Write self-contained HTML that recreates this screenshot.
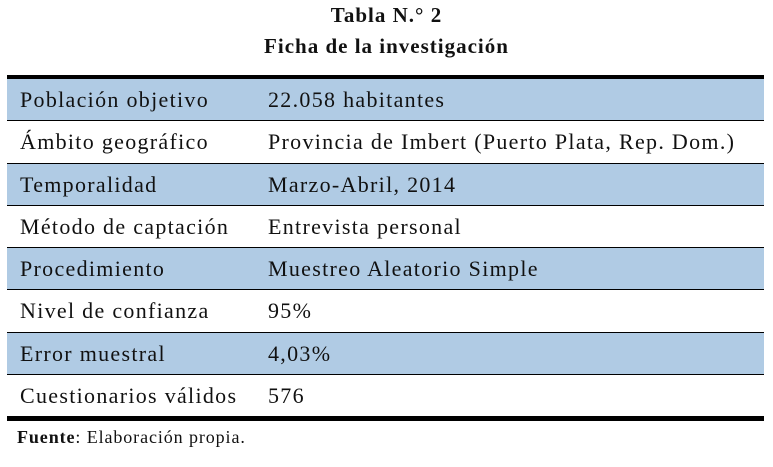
<!DOCTYPE html>
<html><head><meta charset="utf-8"><style>
body{margin:0;width:773px;height:467px;background:#fff;font-family:"Liberation Serif",serif;color:#111;position:relative;overflow:hidden}
.t{position:absolute;left:0;width:773px;text-align:center;font-weight:bold;font-size:21px;letter-spacing:1px}
#tbl{position:absolute;left:7px;top:75px;width:757px;border-top:4px solid #000;border-bottom:5px solid #000}
.r{height:41.25px;border-bottom:1px solid #000;position:relative;font-size:22px;line-height:41px;letter-spacing:1.3px}
.r:last-child{border-bottom:none}
.b{background:#b0cbe4}
.c1{position:absolute;left:13px}.c2{position:absolute;left:261px;white-space:nowrap}
#src{position:absolute;left:17px;top:427px;font-size:18px;letter-spacing:0.9px}
</style></head><body>
<div class="t" style="top:3px">Tabla N.° 2</div>
<div class="t" style="top:34px">Ficha de la investigación</div>
<div id="tbl">
<div class="r b"><span class="c1">Población objetivo</span><span class="c2">22.058 habitantes</span></div>
<div class="r"><span class="c1">Ámbito geográfico</span><span class="c2">Provincia de Imbert (Puerto Plata, Rep. Dom.)</span></div>
<div class="r b"><span class="c1">Temporalidad</span><span class="c2">Marzo-Abril, 2014</span></div>
<div class="r"><span class="c1">Método de captación</span><span class="c2">Entrevista personal</span></div>
<div class="r b"><span class="c1">Procedimiento</span><span class="c2">Muestreo Aleatorio Simple</span></div>
<div class="r"><span class="c1">Nivel de confianza</span><span class="c2">95%</span></div>
<div class="r b"><span class="c1">Error muestral</span><span class="c2">4,03%</span></div>
<div class="r"><span class="c1">Cuestionarios válidos</span><span class="c2">576</span></div>
</div>
<div id="src"><b>Fuente</b>: Elaboración propia.</div>
</body></html>
